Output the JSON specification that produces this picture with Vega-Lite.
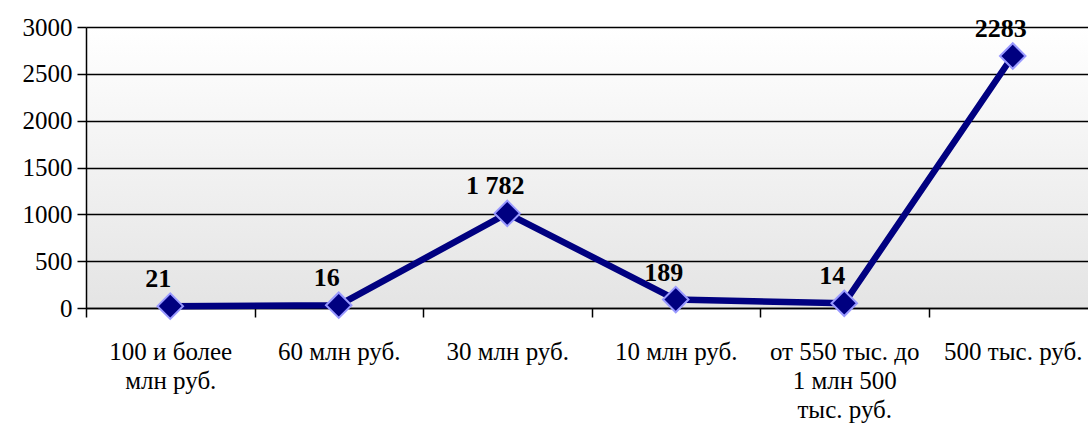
{
  "$schema": "https://vega.github.io/schema/vega-lite/v6.json",
  "autosize": "none",
  "width": 1011,
  "height": 281,
  "padding": {"left": 86, "top": 27, "right": 0, "bottom": 117},
  "background": "white",
  "config": {
    "font": "Liberation Serif",
    "view": {
      "stroke": null,
      "fill": {"gradient": "linear", "x1": 0, "y1": 0, "x2": 0, "y2": 1, "stops": [{"offset": 0, "color": "#ffffff"}, {"offset": 1, "color": "#e4e4e4"}]}
    },
    "axis": {"labelFont": "Liberation Serif", "labelColor": "black", "domainColor": "black", "tickColor": "black", "domainWidth": 1.5, "tickWidth": 1.5, "gridColor": "black", "gridWidth": 1.5, "gridOpacity": 1, "title": null}
  },
  "data": {
    "values": [
      {"cat": "100 и более млн руб.", "value": 20, "label": "21"},
      {"cat": "60 млн руб.", "value": 30, "label": "16"},
      {"cat": "30 млн руб.", "value": 1010, "label": "1 782"},
      {"cat": "10 млн руб.", "value": 90, "label": "189"},
      {"cat": "от 550 тыс. до 1 млн 500 тыс. руб.", "value": 50, "label": "14"},
      {"cat": "500 тыс. руб.", "value": 2690, "label": "2283"}
    ]
  },
  "encoding": {
    "x": {
      "field": "cat", "type": "nominal", "sort": null,
      "scale": {"type": "band", "paddingInner": 0, "paddingOuter": 0},
      "axis": {"labelAngle": 0, "labelFontSize": 25, "tickBand": "extent", "tickSize": 9, "labelPadding": 22, "labelLineHeight": 29, "labelBaseline": "top", "grid": false,
        "labelExpr": "datum.label == '100 и более млн руб.' ? ['100 и более', 'млн руб.'] : datum.label == 'от 550 тыс. до 1 млн 500 тыс. руб.' ? ['от 550 тыс. до', '1 млн 500', 'тыс. руб.'] : datum.label"}
    },
    "y": {
      "field": "value", "type": "quantitative",
      "scale": {"domain": [0, 3000], "nice": false},
      "axis": {"values": [0, 500, 1000, 1500, 2000, 2500, 3000], "labelFontSize": 25, "format": "d", "tickSize": 9, "labelPadding": 5, "grid": true}
    }
  },
  "layer": [
    {"mark": {"type": "line", "color": "#000080", "strokeWidth": 6.5}},
    {"mark": {"type": "point", "shape": "diamond", "filled": true, "fill": "#000080", "stroke": "#9999ff", "strokeWidth": 2, "size": 650, "opacity": 1}},
    {"mark": {"type": "text", "font": "Liberation Serif", "fontSize": 26, "fontWeight": "bold", "color": "black", "dx": -12, "dy": -27, "baseline": "middle"}, "encoding": {"text": {"field": "label"}}}
  ]
}
